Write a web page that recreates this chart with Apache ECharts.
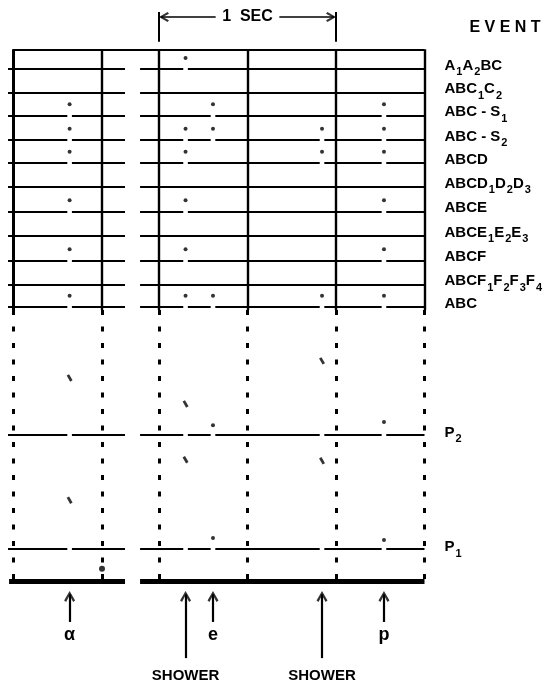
<!DOCTYPE html>
<html>
<head>
<meta charset="utf-8">
<script src="https://cdn.jsdelivr.net/npm/echarts@6/dist/echarts.min.js"></script>
<style>
html, body { margin: 0; padding: 0; background: #fff; }
#main { width: 548px; height: 683px; }
</style>
</head>
<body>
<div id="main"></div>
<script>
/* 이벤트 채널 (위쪽 기록), 위에서 아래로 */
var eventLabels = ['A_1A_2BC', 'ABC_1C_2', 'ABC - S_1', 'ABC - S_2', 'ABCD', 'ABCD_1D_2D_3',
                   'ABCE', 'ABCE_1E_2E_3', 'ABCF', 'ABCF_1F_2F_3F_4', 'ABC'];
// 필름 위 트레이스 위치 (0 = 위 테두리, 100 = 바닥선)
var eventY = [3.7, 8.09, 12.41, 17.0, 21.33, 25.9, 30.47, 35.06, 39.68, 44.2, 48.41];
var pulseLabels = ['P_2', 'P_1'];
var pulseY = [72.55, 94.0];
var baseY = 100;
var topY = 0;

// 시간 표시선 (초) - 왼쪽은 따로 떨어진 기록
var timingLeft = [-0.825, -0.322];
var timingRight = [0, 0.5, 1.0, 1.5];
var stripLeft = [-0.853, -0.192];
var stripRight = [-0.107, 1.5];
var secSpan = [0, 1];

// 입자 / 시간 (초)
var particles = ['α', 'SHOWER', 'e', 'SHOWER', 'p'];
var particleT = [-0.505, 0.150, 0.305, 0.921, 1.271];
// 각 입자가 찍힌 이벤트 행
var particleHits = [
  [2, 3, 4, 6, 8, 10],
  [0, 3, 4, 6, 8, 10],
  [2, 3, 10],
  [3, 4, 10],
  [2, 3, 4, 6, 8, 10]
];
// P2 / P1 트레이스 위의 펄스 위치
var pulseMarks = [
  [61.8, 84.8],
  [66.7, 77.2],
  [70.7, 91.9],
  [58.6, 77.4],
  [70.1, 92.3]
];
var pulseKind = ['slant', 'slant', 'dot', 'slant', 'dot'];
var strayDot = [-0.322, 97.7];

var ink = '#000';
var font = 'Liberation Sans';
var dotLift = 2.07;
var gap = 0.013;
var labelT = 1.613;

function rich(s) { return s.replace(/_(\d)/g, '{s|$1}'); }

function hLine(y, strip, breaks, w) {
  var cuts = breaks.filter(function (t) { return t > strip[0] && t < strip[1]; }).sort(function (a, b) { return a - b; });
  var segs = [], x0 = strip[0];
  cuts.forEach(function (t) {
    segs.push({ coords: [[x0, y], [t - gap, y]], lineStyle: { width: w } });
    x0 = t + gap;
  });
  segs.push({ coords: [[x0, y], [strip[1], y]], lineStyle: { width: w } });
  return segs;
}

var solid = [];
var dotted = [];
// 위 테두리
solid.push({ coords: [[timingLeft[0], topY], [timingRight[timingRight.length - 1], topY]], lineStyle: { width: 2 } });
// 이벤트 행
eventY.forEach(function (y, i) {
  var br = [];
  particleHits.forEach(function (rows, p) { if (rows.indexOf(i) >= 0) br.push(particleT[p]); });
  solid = solid.concat(hLine(y, stripLeft, br, 2), hLine(y, stripRight, br, 2));
});
// P2, P1
pulseY.forEach(function (y) {
  solid = solid.concat(hLine(y, stripLeft, particleT, 2), hLine(y, stripRight, particleT, 2));
});
// 바닥 굵은 선
solid.push({ coords: [[stripLeft[0] + 0.006, baseY], [stripLeft[1], baseY]], lineStyle: { width: 5 } });
solid.push({ coords: [[stripRight[0], baseY], [stripRight[1], baseY]], lineStyle: { width: 5 } });
// 시간 표시 세로선
timingLeft.concat(timingRight).forEach(function (t, k) {
  var last = eventY[eventY.length - 1];
  solid.push({ coords: [[t, topY], [t, last + 0.6]], lineStyle: { width: k === 0 ? 3 : 2.4 } });
  dotted.push({ coords: [[t, last + 0.6], [t, baseY]] });
});
// 1 SEC 괄호
secSpan.forEach(function (t) {
  solid.push({ coords: [[t, -7.0], [t, -1.4]], lineStyle: { width: 2 } });
});
var secMid = (secSpan[0] + secSpan[1]) / 2;
solid.push({ coords: [[secSpan[0] + 0.01, -6.07], [secMid - 0.18, -6.07]], lineStyle: { width: 1.6 } });
solid.push({ coords: [[secMid + 0.18, -6.07], [secSpan[1] - 0.01, -6.07]], lineStyle: { width: 1.6 } });
// 아래 화살표
var tipY = 101.9;
particles.forEach(function (name, p) {
  var tail = name === 'SHOWER' ? 114.5 : 107.7;
  solid.push({ coords: [[particleT[p], tipY + 0.6], [particleT[p], tail]], lineStyle: { width: 2.2 } });
});

// 점 표시
var dots = [];
particleHits.forEach(function (rows, p) {
  rows.forEach(function (r) { dots.push([particleT[p], eventY[r] - dotLift]); });
});
var slants = [];
pulseMarks.forEach(function (ys, p) {
  ys.forEach(function (y) {
    if (pulseKind[p] === 'dot') dots.push([particleT[p], y]);
    else slants.push([particleT[p], y]);
  });
});

var chevron = 'path://M5,0 L10,8.6 L8.2,10 L5,3.8 L1.8,10 L0,8.6 Z';

// 글자
var baseLabel = {
  show: true, color: ink, opacity: 1, fontFamily: font, fontSize: 15, fontWeight: 'bold', lineHeight: 24,
  rich: { s: { fontSize: 11, lineHeight: 11, verticalAlign: 'bottom', fontFamily: font, fontWeight: 'bold', color: ink, padding: [0, 0, 0, 1] } }
};
var texts = [];
eventLabels.forEach(function (s, i) {
  texts.push({ value: [labelT, eventY[i] - 0.6], name: rich(s), label: { position: 'right', distance: 0 } });
});
pulseLabels.forEach(function (s, i) {
  texts.push({ value: [labelT, pulseY[i] - 0.4], name: rich(s), label: { position: 'right', distance: 0 } });
});
texts.push({ value: [1.955, -4.0], name: 'E V E N T', label: { position: 'inside', fontSize: 16 } });
texts.push({ value: [secMid, -6.07], name: '1  SEC', label: { position: 'inside', fontSize: 16 } });
particles.forEach(function (name, p) {
  var y = name === 'SHOWER' ? 117.9 : 110.2;
  texts.push({ value: [particleT[p], y], name: name, label: { position: 'inside', fontSize: name === 'SHOWER' ? 15 : 18 } });
});

var myChart = echarts.init(document.getElementById('main'));

var option = {
  animation: false,
  backgroundColor: '#fff',
  grid: { left: 0, right: 0, top: 0, bottom: 0 },
  xAxis: { type: 'value', min: -0.8983, max: 2.1977, show: false },
  yAxis: { type: 'value', min: -9.27, max: 119.18, inverse: true, show: false },
  series: [
    {
      type: 'lines', coordinateSystem: 'cartesian2d', silent: true,
      lineStyle: { color: ink, opacity: 1, curveness: 0 },
      data: solid
    },
    {
      type: 'lines', coordinateSystem: 'cartesian2d', silent: true,
      lineStyle: { color: ink, opacity: 1, width: 3, type: [5, 11.5] },
      data: dotted
    },
    {
      type: 'scatter', silent: true, symbol: 'circle', symbolSize: 4,
      itemStyle: { color: ink }, data: dots
    },
    {
      type: 'scatter', silent: true, symbol: 'circle', symbolSize: 6,
      itemStyle: { color: ink }, data: [strayDot]
    },
    {
      type: 'scatter', silent: true, symbol: 'rect', symbolSize: [2.8, 7], symbolRotate: 30,
      itemStyle: { color: ink }, data: slants
    },
    {
      type: 'scatter', silent: true, symbol: chevron, symbolSize: [11, 11], symbolOffset: [0, '50%'],
      itemStyle: { color: ink },
      data: particleT.map(function (t) { return [t, tipY]; })
    },
    {
      type: 'scatter', silent: true, symbol: chevron, symbolSize: [10, 10],
      itemStyle: { color: ink },
      data: [
        { value: [secSpan[0], -6.07], symbolRotate: 90, symbolOffset: ['50%', 0] },
        { value: [secSpan[1], -6.07], symbolRotate: -90, symbolOffset: ['-50%', 0] }
      ]
    },
    {
      type: 'scatter', silent: true, symbolSize: 0,
      itemStyle: { color: ink },
      label: Object.assign({ formatter: function (p) { return p.name; } }, baseLabel),
      data: texts
    }
  ]
};

myChart.setOption(option);
</script>
</body>
</html>
